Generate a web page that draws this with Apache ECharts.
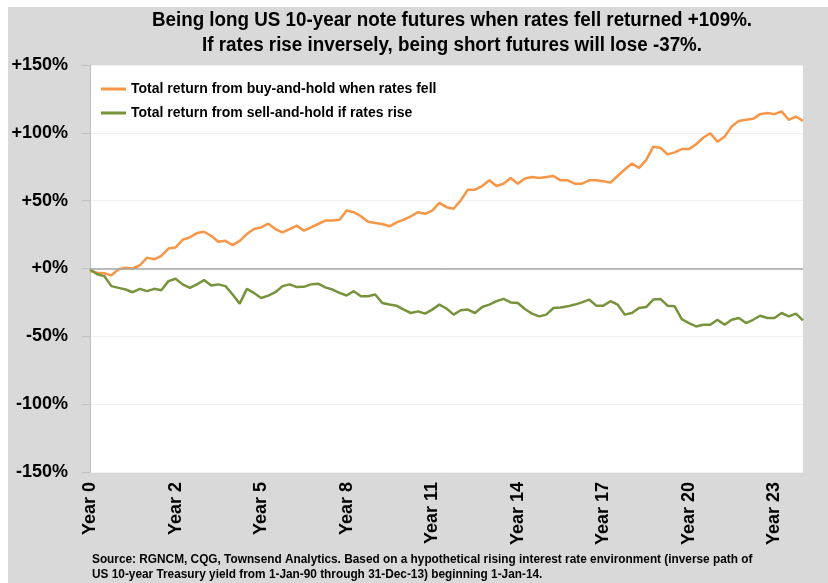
<!DOCTYPE html>
<html>
<head>
<meta charset="utf-8">
<script src="https://cdn.jsdelivr.net/npm/echarts@6/dist/echarts.min.js"></script>
<style>
  html, body { margin: 0; padding: 0; background: #fff; }
  #chart { width: 828px; height: 583px; }
</style>
</head>
<body>
<div id="chart"></div>
<script>
// readings every 0.24 years (101 samples, Year 0 .. Year 24), % total return
const sampleStep = 0.24
const tickLabels = ['Year 0', 'Year 2', 'Year 5', 'Year 8', 'Year 11', 'Year 14', 'Year 17', 'Year 20', 'Year 23']
const tickStep = 2.88
const seriesNames = ['Total return from buy-and-hold when rates fell', 'Total return from sell-and-hold if rates rise']

const buyHold = [
  -1.9, -3.1, -3.5, -5.1, -0.6, 0.6, 0, 2.4, 8, 6.8,
  9.3, 14.7, 15.5, 21.2, 22.9, 26.1, 27.1, 24.1, 19.7, 20.4,
  17.2, 20.4, 25.4, 29.1, 30.3, 33, 29.1, 26.6, 29.1, 31.6,
  27.9, 30.3, 32.8, 35.3, 35.3, 36, 42.7, 41.5, 38.5, 34.5,
  33.6, 32.8, 31.1, 34, 36, 38.5, 41.5, 40.3, 42.7, 48.4,
  45.2, 44, 50.2, 58.1, 58.1, 60.8, 65, 60.8, 62.5, 66.7,
  62.5, 66.3, 67.5, 66.7, 67.5, 68.2, 65, 65, 62.5, 62.5,
  65, 65, 64.3, 63.3, 68.2, 73, 77.4, 74.2, 79.9, 89.8,
  89, 84.1, 85.6, 88, 88, 91.5, 96.4, 99.7, 93.5, 97.2,
  104.6, 108.8, 109.6, 110.3, 113.8, 114.6, 113.8, 115.8, 109.6, 112,
  108.8
]

const sellHold = [
  -0.6, -4.3, -5.6, -13, -14.3, -15.5, -17.5, -15, -16.7, -15,
  -16, -9.3, -7.6, -11.7, -14.3, -11.7, -8.5, -12.5, -11.7, -13,
  -19.2, -25.9, -15, -18, -21.7, -20, -17.5, -13, -11.7, -13.7,
  -13.5, -11.7, -11.2, -13.9, -15.5, -18, -19.9, -16.7, -20.4, -20.4,
  -19.2, -25.4, -26.6, -27.4, -30.3, -32.8, -31.6, -33.3, -30.3, -26.6,
  -29.5, -34, -30.8, -30.3, -32.8, -28.4, -26.6, -24.1, -22.4, -25,
  -25.4, -29.9, -33.3, -35.3, -34, -29.1, -28.7, -27.9, -26.6, -25,
  -22.9, -27.4, -27.4, -24.1, -26.6, -34, -32.8, -29.1, -28.4, -22.9,
  -22.4, -27.4, -27.9, -37.3, -40.2, -42.7, -41.5, -41.5, -37.8, -41.5,
  -37.8, -36.5, -40.2, -37.8, -34.8, -36.5, -36.5, -32.8, -35.3, -33.3,
  -38.3
]

const FONT = '"Liberation Sans", Arial, sans-serif'

function toPoints (values) {
  return values.map((v, i) => [i * sampleStep, v])
}

const chart = echarts.init(document.getElementById('chart'), null, {renderer: 'canvas'})

chart.setOption({
  backgroundColor: '#ffffff',
  animation: false,
  graphic: [
    {type: 'rect', left: 8, top: 7, z: -10, shape: {width: 820, height: 576}, style: {fill: '#d9d9d9'}},
    {
      type: 'text', x: 452, y: 8, z: 10, scaleX: 0.94,
      style: {
        text: 'Being long US 10-year note futures when rates fell returned +109%.\nIf rates rise inversely, being short futures will lose -37%.',
        textAlign: 'center', fontFamily: FONT, fontWeight: 'bold', fontSize: 20, lineHeight: 25, fill: '#000'
      }
    },
    {
      type: 'text', x: 92, y: 552, z: 10, scaleX: 0.91,
      style: {
        text: 'Source: RGNCM, CQG, Townsend Analytics. Based on a hypothetical rising interest rate environment (inverse path of\nUS 10-year Treasury yield from 1-Jan-90 through 31-Dec-13) beginning 1-Jan-14.',
        fontFamily: FONT, fontWeight: 'bold', fontSize: 13, lineHeight: 15, fill: '#000'
      }
    }
  ],
  grid: {
    left: 90, right: 25, top: 65, bottom: 111,
    show: true, backgroundColor: '#ffffff', borderWidth: 0
  },
  legend: {
    orient: 'vertical', left: 101, top: 82, itemGap: 10,
    icon: 'rect', itemWidth: 25, itemHeight: 3, padding: 0,
    textStyle: {fontFamily: FONT, fontWeight: 'bold', fontSize: 14, lineHeight: 14, color: '#000'},
    data: seriesNames
  },
  xAxis: {
    type: 'value', min: 0, max: 24, interval: tickStep,
    axisLine: {show: false}, axisTick: {show: false}, splitLine: {show: false},
    axisLabel: {
      rotate: 90, margin: 10, showMaxLabel: false,
      fontFamily: FONT, fontWeight: 'bold', fontSize: 18, color: '#000',
      formatter (v) {
        const k = Math.round(v / tickStep)
        return Math.abs(v / tickStep - k) < 0.01 ? (tickLabels[k] || '') : ''
      }
    }
  },
  yAxis: {
    type: 'value', min: -150, max: 150, interval: 50,
    axisLine: {show: true, lineStyle: {color: '#bfbfbf', width: 1}},
    axisTick: {show: true, length: 8, lineStyle: {color: '#bfbfbf'}},
    splitLine: {show: true, lineStyle: {color: '#f0f0f0', width: 1}},
    axisLabel: {
      margin: 22, fontFamily: FONT, fontWeight: 'bold', fontSize: 18, color: '#000',
      formatter: v => (v >= 0 ? '+' : '') + v + '%'
    }
  },
  series: [
    {
      name: seriesNames[0], type: 'line', data: toPoints(buyHold),
      symbol: 'none', lineStyle: {color: '#f79646', width: 2.5}, itemStyle: {color: '#f79646'},
      markLine: {
        silent: true, symbol: 'none', label: {show: false},
        lineStyle: {color: '#a6a6a6', type: 'solid', width: 1.5},
        data: [{yAxis: 0}]
      },
      z: 3
    },
    {
      name: seriesNames[1], type: 'line', data: toPoints(sellHold),
      symbol: 'none', lineStyle: {color: '#77933c', width: 2.5}, itemStyle: {color: '#77933c'},
      z: 3
    }
  ]
})
</script>
</body>
</html>
